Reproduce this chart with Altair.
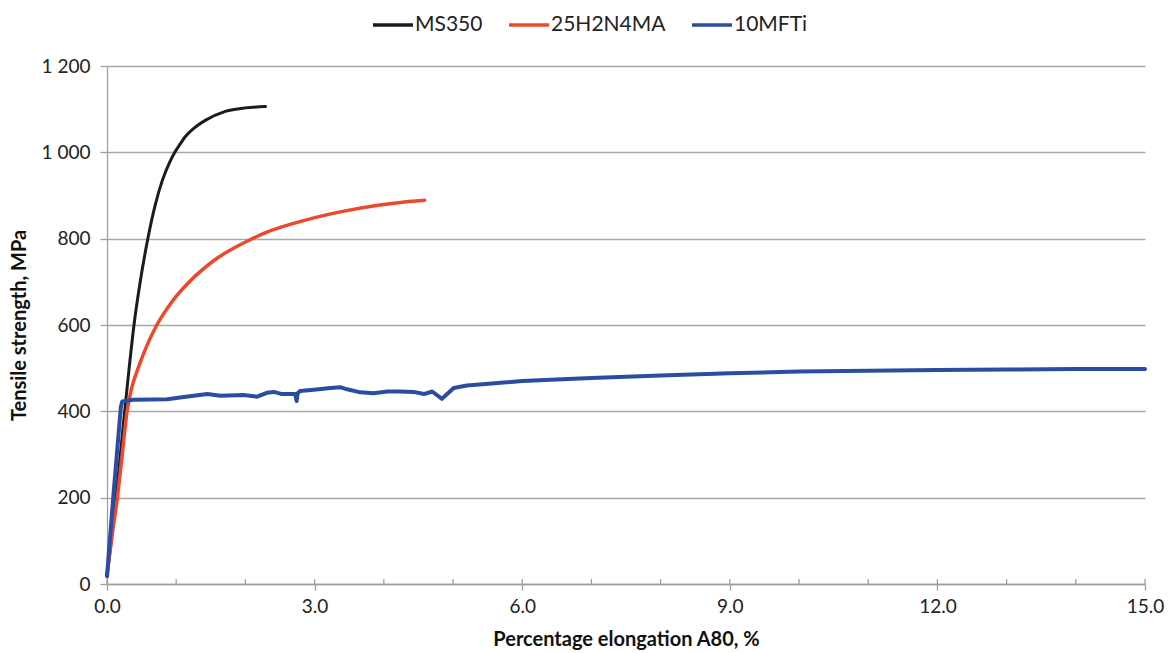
import altair as alt
import pandas as pd

# ---- data ----
series_names = ["MS350", "25H2N4MA", "10MFTi"]
series_colors = ["#1c1c1c", "#ea4a2b", "#2c4ca2"]

ms_x = [0.0, 0.05, 0.10, 0.15, 0.20, 0.255, 0.32, 0.39, 0.48, 0.59, 0.70, 0.80, 0.90, 0.98, 1.06, 1.13, 1.25, 1.42, 1.71, 2.00, 2.29]
ms_y = [20, 85, 155, 230, 310, 400, 500, 600, 700, 800, 880, 935, 975, 1000, 1020, 1036, 1055, 1074, 1095, 1103, 1106]

r_x = [0.0, 0.08, 0.15, 0.22, 0.29, 0.35, 0.45, 0.57, 0.72, 0.92, 1.19, 1.55, 2.10, 2.31, 2.80, 3.37, 3.94, 4.30, 4.59]
r_y = [20, 120, 200, 300, 400, 450, 500, 550, 600, 650, 700, 750, 800, 815, 840, 862, 878, 885, 889]

b_x = [0.0, 0.09, 0.20, 0.22, 0.38, 0.87, 1.11, 1.45, 1.64, 1.97, 2.17, 2.31, 2.41, 2.53, 2.72,
       2.74, 2.755, 2.79, 2.99, 3.23, 3.37, 3.47, 3.66, 3.85, 4.05, 4.24, 4.43, 4.58, 4.70, 4.84,
       5.01, 5.20, 6.0, 7.0, 8.0, 9.0, 10.0, 11.0, 12.0, 13.0, 14.0, 15.0]
b_y = [18, 200, 410, 423, 427, 428, 433, 440, 436, 438, 434, 443, 445, 440, 440,
       424, 442, 447, 450, 454, 456, 451, 444, 442, 446, 446, 445, 440, 446, 429,
       454, 460, 470, 477, 483, 488, 492, 494, 496, 497, 498, 498]

x_major = [0, 3, 6, 9, 12, 15]
x_minor = [1, 2, 4, 5, 7, 8, 10, 11, 13, 14]
y_ticks = [0, 200, 400, 600, 800, 1000, 1200]

rows = []
for name, xs, ys in [(series_names[0], ms_x, ms_y), (series_names[1], r_x, r_y), (series_names[2], b_x, b_y)]:
    for i, (a, b) in enumerate(zip(xs, ys)):
        rows.append({"series": name, "x": a, "y": b, "order": i})
df = pd.DataFrame(rows)

W, H = 1038, 518
FONT = "Lato"

xscale = alt.Scale(domain=[0, 15], nice=False, zero=False)
yscale = alt.Scale(domain=[0, 1200], nice=False)
color = alt.Color(
    "series:N",
    scale=alt.Scale(domain=series_names, range=series_colors),
    legend=alt.Legend(
        title=None, orient="none", direction="horizontal",
        legendX=264, legendY=-63, symbolType="stroke", symbolSize=1600,
        symbolStrokeWidth=3.5, labelFontSize=21, labelFont=FONT, labelColor="#222222",
        labelOffset=0, columnPadding=19, padding=0,
    ),
)

xaxis = alt.Axis(
    values=x_major, format=".1f", title="Percentage elongation A80, %",
    grid=False, tickSize=6, labelPadding=7, titlePadding=13, labelFlush=False,
)
yaxis = alt.Axis(
    values=y_ticks, labelExpr="replace(format(datum.value, ','), ',', ' ')",
    title="Tensile strength, MPa", grid=True, tickSize=7, labelPadding=10, titlePadding=12,
)

base = alt.Chart(df)
layers = []
widths = {"MS350": 3, "25H2N4MA": 3.5, "10MFTi": 4}
interp = {"MS350": "monotone", "25H2N4MA": "monotone", "10MFTi": "linear"}
for i, name in enumerate(series_names):
    layer = base.transform_filter(alt.datum.series == name).mark_line(
        strokeWidth=widths[name], strokeJoin="round", strokeCap="round",
        interpolate=interp[name],
    ).encode(
        x=alt.X("x:Q", scale=xscale, axis=xaxis),
        y=alt.Y("y:Q", scale=yscale, axis=yaxis),
        color=color,
        order="order:Q",
    )
    layers.append(layer)

tick_df = pd.DataFrame({"t": x_major + x_minor})
inner_ticks = alt.Chart(tick_df).mark_rule(color="#a0a0a0", strokeWidth=1.3).encode(
    x=alt.X("t:Q", scale=xscale, axis=xaxis),
    y=alt.value(H),
    y2=alt.value(H - 5),
)

chart = alt.layer(*layers, inner_ticks).properties(
    width=W, height=H,
    autosize=alt.AutoSizeParams(type="none"),
    padding={"left": 107, "top": 66, "right": 26, "bottom": 69},
).configure_view(stroke=None).configure_axis(
    labelFont=FONT, titleFont=FONT, labelFontSize=19, titleFontSize=20,
    labelColor="#222222", titleColor="#111111", titleFontWeight="bold",
    domainColor="#a0a0a0", domainWidth=1.3, tickColor="#a0a0a0", tickWidth=1.3,
    gridColor="#a8a8a8", gridWidth=1.3,
)

chart.save("out.html", embed_options={"renderer": "svg", "actions": False})
